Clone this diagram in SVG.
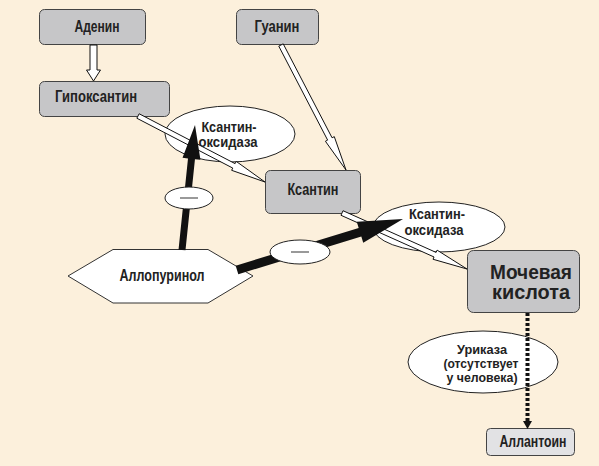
<svg xmlns="http://www.w3.org/2000/svg" width="599" height="466" viewBox="0 0 599 466">
<style>
.box{fill:#c6c6c8;stroke:#444;stroke-width:1}
.lbox{fill:#e2e2e4;stroke:#444;stroke-width:1}
.ell{fill:#ffffff;stroke:#222;stroke-width:1}
.hollow{fill:#ffffff;stroke:#111;stroke-width:1;stroke-linejoin:miter}
.solid{fill:#111;stroke:none}
text{font-family:"Liberation Sans",Arial,sans-serif;font-weight:bold;fill:#222;text-anchor:middle}
.t16{font-size:16px}
.t14{font-size:14px}
.t13{font-size:13px}
.t20{font-size:20px}
</style>
<rect width="599" height="466" fill="#fcf0dc"/>

<g id="enzyme1"><ellipse class="ell" cx="230" cy="134" rx="65" ry="28"/><text class="t14" x="229" y="131.5" textLength="55" lengthAdjust="spacingAndGlyphs">Ксантин-</text><text class="t14" x="228" y="147" textLength="59" lengthAdjust="spacingAndGlyphs">оксидаза</text></g>
<g id="enzyme2"><ellipse class="ell" cx="439" cy="227" rx="66" ry="25"/><text class="t14" x="437" y="219" textLength="56" lengthAdjust="spacingAndGlyphs">Ксантин-</text><text class="t14" x="434" y="234.5" textLength="59" lengthAdjust="spacingAndGlyphs">оксидаза</text></g>
<g id="uricase"><ellipse class="ell" cx="483" cy="362" rx="75" ry="31"/><text class="t13" x="482" y="353.5" textLength="50" lengthAdjust="spacingAndGlyphs">Уриказа</text><text class="t13" x="481" y="367.5" textLength="75" lengthAdjust="spacingAndGlyphs">(отсутствует</text><text class="t13" x="482" y="381.5" textLength="71" lengthAdjust="spacingAndGlyphs">у человека)</text></g>

<g id="adenine"><rect class="box" x="39.5" y="9.5" width="106" height="35" rx="5"/><text class="t16" x="97" y="31.5" textLength="45" lengthAdjust="spacingAndGlyphs">Аденин</text></g>
<g id="guanine"><rect class="box" x="236.5" y="9.5" width="82" height="35" rx="5"/><text class="t16" x="277" y="31.5" textLength="45" lengthAdjust="spacingAndGlyphs">Гуанин</text></g>
<g id="hypoxanthine"><rect class="box" x="39.5" y="81.5" width="130" height="35" rx="5"/><text class="t16" x="96" y="102" textLength="82" lengthAdjust="spacingAndGlyphs">Гипоксантин</text></g>
<g id="xanthine"><rect class="box" x="265.5" y="170.5" width="95" height="43" rx="5"/><text class="t16" x="313" y="195" textLength="51" lengthAdjust="spacingAndGlyphs">Ксантин</text></g>
<g id="uricacid"><rect class="box" x="467.5" y="250.5" width="112" height="62" rx="6"/><text class="t20" x="531" y="279" textLength="82" lengthAdjust="spacingAndGlyphs">Мочевая</text><text class="t20" x="531" y="299" textLength="78" lengthAdjust="spacingAndGlyphs">кислота</text></g>
<g id="allantoin"><rect class="lbox" x="486.5" y="428.5" width="88" height="27" rx="4"/><text class="t16" x="533" y="447" textLength="67" lengthAdjust="spacingAndGlyphs">Аллантоин</text></g>
<g id="allopurinol"><polygon fill="#ffffff" stroke="#333" stroke-width="1" points="68,276 113,249.5 208,249.5 253,276 208,303 113,303"/><text class="t16" x="162" y="281" textLength="85" lengthAdjust="spacingAndGlyphs">Аллопуринол</text></g>

<g id="connectors">
<polygon class="hollow" points="90,45 90,70 86.5,70 93.5,81 100.5,70 97,70 97,45"/>
<polygon class="hollow" points="136.85,118.22 232.79,168.08 231.63,170.30 265,182 236.25,161.42 235.09,163.64 139.15,113.78"/>
<polygon class="hollow" points="278.78,46.15 327.63,140.10 325.41,141.26 346,170 334.29,136.64 332.07,137.80 283.22,43.85"/>
<polygon class="hollow" points="340.98,215.28 434.04,256.97 433.02,259.25 467,269 437.10,250.13 436.08,252.41 343.02,210.72"/>
<line x1="527.5" y1="313" x2="527.5" y2="422" stroke="#111" stroke-width="4" stroke-dasharray="3,2"/>
<polygon class="solid" points="523,421 532,421 527.5,429"/>
<polygon class="solid" points="185.48,250.36 194.96,159.16 200.43,159.73 195,125 182.53,157.87 188.0,158.44 178.52,249.64"/>
<polygon class="solid" points="238.32,274.30 361.32,236.50 363.23,242.71 403,219 356.77,221.69 358.68,227.90 235.68,265.70"/>
<g id="inhib1"><ellipse class="ell" cx="189" cy="198" rx="24" ry="11"/><line x1="180" y1="198" x2="198" y2="198" stroke="#777" stroke-width="1.5"/></g>
<g id="inhib2"><ellipse class="ell" cx="300" cy="252" rx="30" ry="12"/><line x1="291" y1="252" x2="309" y2="252" stroke="#777" stroke-width="1.5"/></g>
</g>
</svg>
